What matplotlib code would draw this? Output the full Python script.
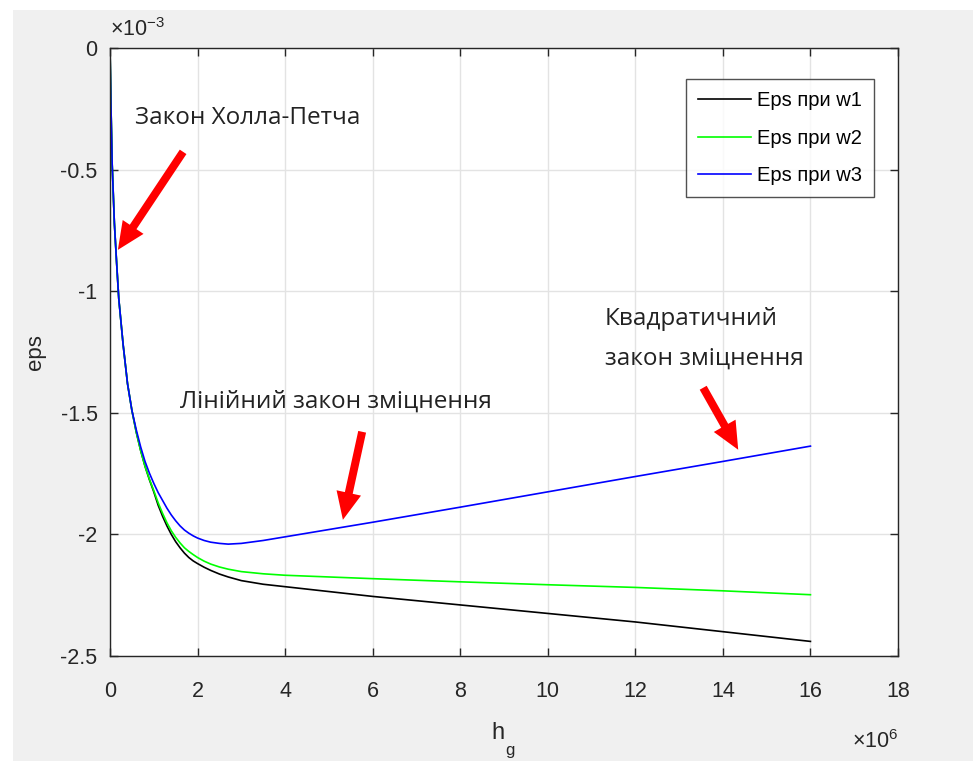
import matplotlib
matplotlib.use("Agg")
import matplotlib.pyplot as plt
from matplotlib.patches import Rectangle

# ---- data (h in units of 1e6, eps in units of 1e-3) ----
h = [0, 0.02, 0.05, 0.1, 0.15, 0.2, 0.3, 0.4, 0.5, 0.6, 0.7, 0.8, 0.9, 1.0, 1.1,
     1.2, 1.3, 1.4, 1.5, 1.6, 1.7, 1.8, 1.9, 2.0, 2.15, 2.3, 2.5, 2.7, 3.0, 3.5,
     4, 5, 6, 8, 10, 12, 14, 16]
eps_w1 = [0, -0.22, -0.48, -0.72, -0.88, -1.03, -1.22, -1.38, -1.49, -1.58, -1.655,
          -1.72, -1.775, -1.825, -1.88, -1.925, -1.965, -2.00, -2.03, -2.055, -2.077,
          -2.095, -2.109, -2.12, -2.135, -2.148, -2.163, -2.175, -2.19, -2.205,
          -2.215, -2.235, -2.255, -2.29, -2.325, -2.36, -2.40, -2.44]
eps_w2 = [0, -0.22, -0.48, -0.72, -0.88, -1.03, -1.22, -1.38, -1.49, -1.58, -1.655,
          -1.72, -1.773, -1.82, -1.87, -1.913, -1.952, -1.985, -2.012, -2.035, -2.055,
          -2.07, -2.083, -2.095, -2.11, -2.122, -2.134, -2.143, -2.153, -2.162,
          -2.168, -2.175, -2.182, -2.195, -2.207, -2.218, -2.232, -2.248]
eps_w3 = [0, -0.22, -0.48, -0.72, -0.88, -1.03, -1.22, -1.38, -1.49, -1.57, -1.64,
          -1.70, -1.748, -1.79, -1.828, -1.86, -1.892, -1.92, -1.944, -1.965, -1.982,
          -1.995, -2.006, -2.015, -2.025, -2.032, -2.037, -2.04, -2.037, -2.025,
          -2.010, -1.98, -1.95, -1.888, -1.825, -1.762, -1.700, -1.637]
labels = ["Eps при w1", "Eps при w2", "Eps при w3"]
colors = ["#000000", "#00ff00", "#0000ff"]
xticks = [0, 2, 4, 6, 8, 10, 12, 14, 16, 18]
yticks = [0, -0.5, -1, -1.5, -2, -2.5]
ytick_labels = ["0", "-0.5", "-1", "-1.5", "-2", "-2.5"]

plt.rcParams['font.family'] = ['Liberation Sans', 'DejaVu Sans']
plt.rcParams['mathtext.fontset'] = 'custom'
plt.rcParams['mathtext.rm'] = 'Liberation Sans'
plt.rcParams['mathtext.default'] = 'regular'

fig = plt.figure(figsize=(9.73, 7.61), dpi=100, facecolor='white')
W, H = 973, 761
fig.patches.append(Rectangle((13 / W, 0), 1 - 13 / W, 1 - 10 / H,
                             transform=fig.transFigure, facecolor='#f0f0f0',
                             edgecolor='none', zorder=-10))

left, right, top, bottom = 110, 898, 48, 656
ax = fig.add_axes([left / W, 1 - bottom / H, (right - left) / W, (bottom - top) / H])
ax.set_facecolor('white')

for y, lab, c in zip([eps_w1, eps_w2, eps_w3], labels, colors):
    ax.plot(h, y, color=c, lw=1.2, label=lab)

ax.set_xlim(0, 18)
ax.set_ylim(-2.5, 0)
ax.set_xticks(xticks)
ax.set_xticklabels([str(t) for t in xticks])
ax.set_yticks(yticks)
ax.set_yticklabels(ytick_labels)
ax.grid(True, color='#e3e3e3', lw=1.0)
ax.set_axisbelow(True)
for s in ax.spines.values():
    s.set_color('#262626')
    s.set_linewidth(1.0)
ax.tick_params(direction='in', length=6, width=1.0, color='#262626',
               labelsize=15.5, labelcolor='#262626', top=True, right=True)
ax.tick_params(axis='x', pad=18)
ax.tick_params(axis='y', pad=9)

ax.set_ylabel('eps', fontsize=16, color='#262626', labelpad=10)
fig.text(498 / W, 1 - 733 / H, 'h', fontsize=17, color='#262626',
         ha='center', va='center')
fig.text(510 / W, 1 - 751 / H, 'g', fontsize=12, color='#262626',
         ha='center', va='center')
ax.text(1.0, -0.14, r'$\times$10$^{6}$', transform=ax.transAxes, fontsize=15.5,
        color='#262626', ha='right', va='center')
ax.text(0.0, 1.03, r'$\times$10$^{-3}$', transform=ax.transAxes, fontsize=15.5,
        color='#262626', ha='left', va='center')

leg = ax.legend(loc='upper right', bbox_to_anchor=(0.9695, 0.949), fontsize=14.5,
                frameon=True, fancybox=False, edgecolor='#262626',
                handlelength=2.6, borderpad=0.6, labelspacing=0.92,
                handletextpad=0.3, borderaxespad=0)
leg.get_frame().set_linewidth(1.0)

tfont = ['Open Sans', 'DejaVu Sans']
ax.text(0.57, -0.288, 'Закон Холла-Петча', fontsize=17.5, family=tfont,
        color='#222222', ha='left', va='center')
ax.text(1.6, -1.455, 'Лінійний закон зміцнення', fontsize=17.5, family=tfont,
        color='#222222', ha='left', va='center')
ax.text(11.3, -1.195, 'Квадратичний\nзакон зміцнення', fontsize=17.5, family=tfont,
        color='#222222', ha='left', va='center', linespacing=1.9)

arrow_style = 'simple,head_length=1.1,head_width=1.0,tail_width=0.32'
for tail, head in [((1.67, -0.427), (0.18, -0.83)),
                   ((5.76, -1.578), (5.32, -1.94)),
                   ((13.55, -1.397), (14.35, -1.652))]:
    ax.annotate('', xy=head, xytext=tail,
                arrowprops=dict(arrowstyle=arrow_style, color='#ff0000',
                                mutation_scale=18, shrinkA=0, shrinkB=0, lw=0))

fig.savefig('out.png', dpi=100, facecolor=fig.get_facecolor())
